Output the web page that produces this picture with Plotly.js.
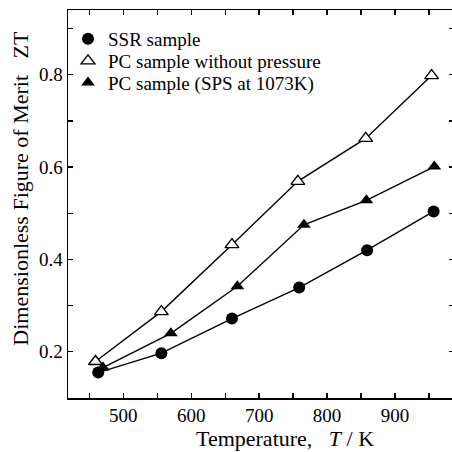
<!DOCTYPE html>
<html>
<head>
<meta charset="utf-8">
<script src="https://cdn.plot.ly/plotly-3.0.1.min.js"></script>
<style>
html,body{margin:0;padding:0;overflow:hidden;background:#fff;}
#chart{width:456px;height:452px;}
</style>
</head>
<body>
<div id="chart"></div>
<script>
// Data
const ssrT  = [463, 556, 660, 759, 859, 957];
const ssrZT = [0.155, 0.197, 0.272, 0.339, 0.420, 0.504];

const pcT  = [459, 556, 660, 757, 857, 954];
const pcZT = [0.179, 0.287, 0.432, 0.569, 0.662, 0.798];

const spsT  = [470, 570, 668, 766, 858, 958];
const spsZT = [0.166, 0.240, 0.342, 0.475, 0.528, 0.601];

const seriesNames = ['SSR sample', 'PC sample without pressure', 'PC sample (SPS at 1073K)'];
const xTickVals = [500, 600, 700, 800, 900];
const yTickVals = [0.2, 0.4, 0.6, 0.8];

const font = '"Liberation Serif", "Times New Roman", serif';
const lineStyle = {color: '#000', width: 1.4};

const series = [
  {x: ssrT, y: ssrZT, name: seriesNames[0], symbol: 'circle', fill: '#000', lw: 0, legend: 'legend'},
  {x: pcT, y: pcZT, name: seriesNames[1], symbol: 'triangle-up', fill: '#fff', lw: 1.4, legend: 'legend2'},
  {x: spsT, y: spsZT, name: seriesNames[2], symbol: 'triangle-up', fill: '#000', lw: 0, legend: 'legend3'}
];

const traces = [];
series.forEach(s => {
  traces.push({x: s.x, y: s.y, mode: 'lines', line: lineStyle, showlegend: false, hoverinfo: 'skip'});
});
series.forEach(s => {
  traces.push({
    x: s.x, y: s.y, mode: 'markers', name: s.name, legend: s.legend,
    marker: {symbol: s.symbol, size: 12, color: s.fill,
             line: {color: '#000', width: s.lw}}
  });
});

const axisCommon = {
  showline: true, linecolor: '#000', linewidth: 1.5, mirror: 'ticks',
  ticks: 'inside', ticklen: 5, tickwidth: 1.3, tickcolor: '#000',
  showgrid: false, zeroline: false,
  tickfont: {family: font, size: 19, color: '#000'}
};

function legendAt(centerPx) {
  const topPx = centerPx - 20;
  return {
    x: 0, xanchor: 'left', y: 1 - (topPx - 10) / 387.7, yanchor: 'top',
    bgcolor: 'rgba(0,0,0,0)', borderwidth: 0,
    font: {family: font, size: 19, color: '#000'},
    itemwidth: 30
  };
}

const layout = {
  width: 456, height: 452,
  margin: {l: 68, r: 2, t: 10, b: 54},
  paper_bgcolor: '#fff', plot_bgcolor: '#fff',
  font: {family: font, color: '#000'},
  xaxis: Object.assign({}, axisCommon, {
    range: [418.5, 987], tickvals: xTickVals, ticktext: xTickVals.map(String),
    minor: {dtick: 50, tick0: 450, ticks: 'inside', ticklen: 5, tickwidth: 1.3, tickcolor: '#000', showgrid: false}
  }),
  yaxis: Object.assign({}, axisCommon, {
    range: [0.1, 0.94], tickvals: yTickVals, ticktext: yTickVals.map(v => v.toFixed(1)),
    minor: {dtick: 0.1, tick0: 0.1, ticks: 'inside', ticklen: 5, tickwidth: 1.3, tickcolor: '#000', showgrid: false}
  }),
  showlegend: true,
  legend: legendAt(40),
  legend2: legendAt(62),
  legend3: legendAt(83.5),
  annotations: [
    {text: 'Temperature,&nbsp;&nbsp;&nbsp;<i>T</i> / K', xref: 'paper', yref: 'paper',
     x: (285 - 68) / 386, y: -(438 - 397.7) / 387.7, xanchor: 'center', yanchor: 'middle',
     showarrow: false, font: {family: font, size: 22, color: '#000'}},
    {text: 'Dimensionless Figure of Merit&nbsp;&nbsp;&nbsp;ZT', xref: 'paper', yref: 'paper',
     x: (21 - 68) / 386, y: (397.7 - 188.5) / 387.7, xanchor: 'center', yanchor: 'middle',
     textangle: -90, showarrow: false, font: {family: font, size: 22, color: '#000'}}
  ]
};

Plotly.newPlot('chart', traces, layout, {displayModeBar: false, staticPlot: true});
</script>
</body>
</html>
